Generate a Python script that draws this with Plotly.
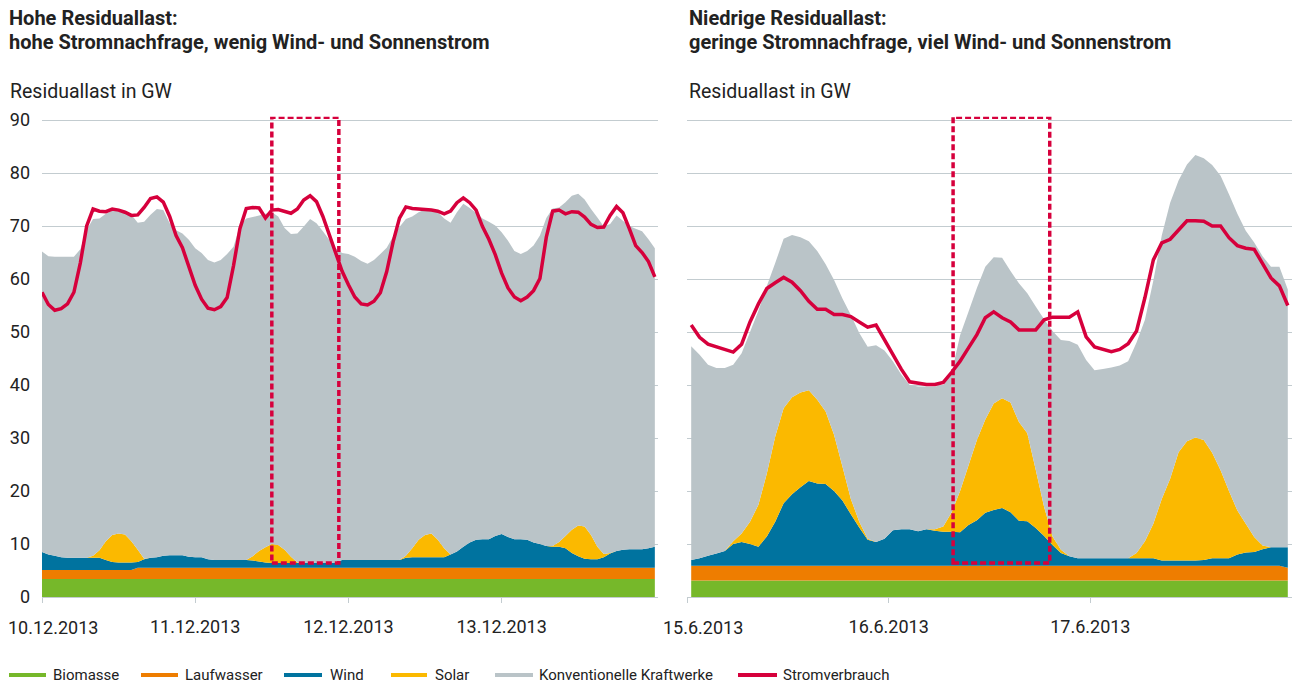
import pandas as pd
import plotly.graph_objects as go

# ---------------- data ----------------
left_time = pd.date_range("2013-12-10 00:00", periods=97, freq="h")
right_time = pd.date_range("2013-06-15 00:30", periods=72, freq="h")

left_bio = [3.4] * 97
left_lauf = [1.7] * 15 + [2.1] * 82
left_wind = [
    3.4, 2.9, 2.7, 2.4, 2.3, 2.3, 2.3, 2.3, 2.3, 2.3,
    1.9, 1.5, 1.4, 1.4, 1.4, 1.1, 1.6, 1.9, 2.0, 2.3,
    2.4, 2.4, 2.4, 2.1, 2.0, 2.0, 1.6, 1.5, 1.5, 1.5,
    1.5, 1.5, 1.5, 1.4, 1.2, 1.0, 0.9, 0.9, 0.9, 0.9,
    0.9, 0.9, 0.9, 0.9, 0.9, 0.9, 1.0, 1.5, 1.5, 1.5,
    1.5, 1.5, 1.5, 1.5, 1.5, 1.5, 1.5, 1.9, 2.0, 2.0,
    2.0, 2.0, 2.0, 2.0, 2.5, 3.1, 4.0, 4.8, 5.3, 5.4,
    5.4, 6.0, 6.4, 5.8, 5.4, 5.4, 5.3, 4.8, 4.5, 4.1,
    4.0, 4.0, 3.7, 2.8, 2.2, 1.7, 1.6, 1.6, 2.0, 2.7,
    3.2, 3.4, 3.5, 3.5, 3.5, 3.7, 4.0,
]
left_solar = [
    0, 0, 0, 0, 0, 0, 0, 0, 0.4, 1.4,
    3.5, 5.1, 5.5, 5.3, 4.0, 2.3, 0.1, 0, 0, 0,
    0, 0, 0, 0, 0, 0, 0, 0, 0, 0,
    0, 0, 0, 0.8, 2.0, 2.9, 3.6, 3.4, 2.5, 1.2,
    0.1, 0, 0, 0, 0, 0, 0, 0, 0, 0,
    0, 0, 0, 0, 0, 0, 0, 0.4, 1.7, 3.3,
    4.2, 4.5, 3.3, 1.7, 0, 0, 0, 0, 0, 0,
    0, 0, 0, 0, 0, 0, 0, 0, 0, 0,
    0.1, 0.9, 2.3, 4.4, 5.8, 6.1, 4.6, 2.4, 0.6, 0.1,
    0, 0, 0, 0, 0, 0, 0,
]
left_konv = [
    56.7, 56.3, 56.4, 56.7, 56.8, 56.8, 58.2, 61.9, 63.5, 62.6,
    61.8, 61.2, 60.8, 60.8, 61.6, 61.7, 63.6, 64.7, 65.7, 65.2,
    62.6, 61.3, 60.7, 59.8, 58.3, 57.4, 56.5, 56.1, 56.6, 57.7,
    59.1, 63.1, 64.4, 64.0, 63.3, 62.9, 62.6, 62.0, 60.7, 60.9,
    62.1, 63.5, 64.9, 64.1, 62.6, 61.0, 59.3, 57.9, 57.7, 57.2,
    56.4, 55.9, 56.6, 57.7, 58.9, 61.0, 62.8, 63.5, 62.6, 61.8,
    61.4, 61.0, 61.8, 62.2, 62.6, 64.0, 64.7, 63.1, 61.7, 60.5,
    59.9, 58.6, 56.9, 55.9, 54.4, 53.8, 54.5, 56.0, 58.2, 61.9,
    63.7, 63.1, 63.0, 63.0, 62.6, 61.7, 61.5, 62.1, 61.8, 62.1,
    63.3, 62.1, 61.0, 60.5, 60.0, 58.3, 56.3,
]
left_load = [
    57.5, 55.2, 54.1, 54.4, 55.3, 57.5, 63.0, 70.0, 73.2, 72.8,
    72.7, 73.2, 73.0, 72.6, 72.0, 72.1, 73.5, 75.2, 75.5, 74.5,
    71.8, 68.2, 65.9, 62.4, 58.8, 56.2, 54.5, 54.2, 54.8, 56.5,
    62.5, 69.5, 73.3, 73.5, 73.4, 71.5, 73.0, 73.1, 72.7, 72.4,
    73.2, 74.9, 75.7, 74.6, 71.8, 68.3, 65.0, 61.5, 58.9, 56.6,
    55.3, 55.1, 55.8, 57.4, 61.4, 67.0, 71.5, 73.6, 73.3, 73.2,
    73.2, 73.0, 72.8, 72.3, 72.8, 74.4, 75.3, 74.4, 73.0, 69.9,
    67.5, 64.6, 61.1, 58.3, 56.6, 55.9, 56.6, 57.8, 60.1, 67.9,
    72.8, 73.0, 72.3, 72.7, 72.6, 71.7, 70.3, 69.7, 69.8, 72.0,
    73.7, 72.5, 69.5, 66.3, 65.0, 63.3, 60.4,
]

right_bio = [3.1] * 72
right_lauf = [2.8] * 71 + [2.4]
right_wind = [
    1.1, 1.4, 1.9, 2.3, 2.8, 4.1, 4.5, 4.1, 3.6, 5.5,
    8.3, 11.8, 13.5, 14.8, 16.0, 15.5, 15.4, 14.1, 12.3, 9.7,
    7.2, 4.9, 4.5, 5.1, 6.7, 6.9, 6.9, 6.5, 6.9, 6.6,
    6.4, 6.4, 6.3, 7.7, 8.6, 10.0, 10.5, 10.9, 10.1, 8.5,
    8.4, 7.1, 5.6, 3.9, 2.4, 1.8, 1.4, 1.4, 1.4, 1.4,
    1.4, 1.4, 1.4, 1.4, 1.4, 1.4, 1.0, 1.0, 1.0, 1.0,
    1.0, 1.1, 1.4, 1.4, 1.4, 2.1, 2.5, 2.6, 3.1, 3.5,
    3.5, 3.9,
]
right_solar = [
    0, 0, 0, 0, 0, 0.5, 1.6, 4.2, 7.9, 11.9,
    16.1, 17.9, 18.3, 17.9, 17.1, 15.8, 13.7, 10.6, 6.4, 2.9,
    1.1, 0.2, 0, 0, 0, 0, 0, 0, 0, 0.3,
    1.0, 3.7, 7.8, 11.2, 15.1, 17.6, 20.1, 20.7, 20.7, 18.6,
    16.6, 11.0, 5.5, 1.6, 0.6, 0, 0, 0, 0, 0,
    0, 0, 0, 1.0, 3.2, 6.5, 11.6, 15.4, 20.4, 22.5,
    23.2, 22.6, 19.9, 16.6, 12.7, 8.3, 5.4, 2.8, 0.7, 0,
    0, 0,
]
right_konv = [
    40.3, 38.4, 36.0, 35.0, 34.5, 33.3, 34.0, 35.8, 36.6, 35.4,
    32.7, 32.0, 30.6, 29.3, 28.1, 28.1, 27.8, 29.2, 31.7, 34.7,
    35.6, 36.2, 37.1, 35.5, 31.9, 29.2, 27.2, 27.3, 26.9, 26.9,
    26.7, 26.3, 29.4, 29.0, 28.7, 28.8, 27.6, 26.5, 24.8, 26.2,
    26.4, 30.8, 35.4, 38.8, 39.6, 40.6, 40.3, 37.4, 35.5, 35.7,
    36.0, 36.4, 37.2, 39.7, 41.8, 45.9, 49.7, 52.1, 51.3, 52.2,
    53.3, 53.2, 54.3, 55.6, 56.0, 56.0, 55.3, 55.6, 54.6, 52.9,
    52.9, 48.6,
]
right_load = [
    51.3, 49.0, 47.7, 47.2, 46.7, 46.2, 47.7, 51.9, 55.3, 58.2,
    59.3, 60.3, 59.4, 57.8, 55.8, 54.3, 54.3, 53.3, 53.3, 52.9,
    51.9, 50.9, 51.3, 48.5, 45.7, 43.0, 40.6, 40.3, 40.1, 40.1,
    40.5, 42.4, 44.5, 47.0, 49.5, 52.7, 53.8, 52.7, 51.9, 50.4,
    50.4, 50.4, 52.3, 52.8, 52.8, 52.8, 53.8, 49.1, 47.2, 46.7,
    46.3, 46.7, 47.8, 50.2, 56.5, 63.6, 66.8, 67.5, 69.3, 71.0,
    71.0, 70.9, 70.0, 70.0, 67.8, 66.3, 65.8, 65.6, 62.9, 60.2,
    58.7, 55.0,
]

series_names = ["Biomasse", "Laufwasser", "Wind", "Solar", "Konventionelle Kraftwerke"]
load_name = "Stromverbrauch"

left_ticks = ["2013-12-10", "2013-12-11", "2013-12-12", "2013-12-13"]
left_ticktext = ["", "11.12.2013", "12.12.2013", "13.12.2013"]
right_ticks = ["2013-06-15", "2013-06-16", "2013-06-17"]
right_ticktext = ["", "16.6.2013", "17.6.2013"]

left_box = ["2013-12-11 12:00", "2013-12-11 22:30"]
right_box = ["2013-06-16 07:40", "2013-06-16 19:10"]
box_y = [6.4, 90.5]

# ---------------- style ----------------
COLORS = ["#76b82a", "#ee7d00", "#00739f", "#fbb900", "#bac4c8"]
RED = "#d6003c"
FONT = "Roboto"
TXT = "#222222"
GRID = "#c3ccd0"
AXIS = "#c3ccd0"

# legend layout (pixel positions: symbol start, symbol end, text start)
LEGEND_POS = [(9, 46, 52), (141, 178, 184), (284, 322, 329),
              (391, 427, 434), (495, 533, 538), (738, 777, 782)]
LEGEND_Y = 675

fig = go.Figure()

def add_panel(times, comps, load, xa, ya):
    for name, vals, col in zip(series_names, comps, COLORS):
        fig.add_trace(go.Scatter(
            x=times, y=vals, name=name, mode="none", stackgroup="s" + xa,
            fillcolor=col, showlegend=False, xaxis=xa, yaxis=ya,
            hoverinfo="skip"))
    fig.add_trace(go.Scatter(
        x=times, y=load, name=load_name, mode="lines",
        line=dict(color=RED, width=3.5), showlegend=False,
        xaxis=xa, yaxis=ya))

add_panel(left_time, [left_bio, left_lauf, left_wind, left_solar, left_konv],
          left_load, "x", "y")
add_panel(right_time, [right_bio, right_lauf, right_wind, right_solar, right_konv],
          right_load, "x2", "y2")

W, H = 1295, 685
def px_x(p): return p / W
def px_y(p): return 1 - p / H

ydom = [px_y(597), px_y(597 - 90.6 * 5.3)]

yaxis_common = dict(range=[0, 90.6], domain=ydom, showgrid=True, gridcolor=GRID,
                    gridwidth=1.3, zeroline=False, tickvals=list(range(0, 91, 10)),
                    tickfont=dict(family=FONT, size=18, color=TXT), fixedrange=True,
                    automargin=False)
xaxis_common = dict(showgrid=False, zeroline=False, showline=True, linecolor=AXIS,
                    linewidth=1.3, ticks="outside", ticklen=5, tickcolor=AXIS,
                    tickwidth=1.3, tickfont=dict(family=FONT, size=18, color=TXT),
                    ticklabelstandoff=8, automargin=False, fixedrange=True)

fig.update_layout(
    width=W, height=H,
    margin=dict(l=0, r=0, t=0, b=0, autoexpand=False),
    paper_bgcolor="white", plot_bgcolor="white",
    xaxis=dict(xaxis_common, domain=[px_x(42), px_x(657.5)],
               range=["2013-12-10 00:00", "2013-12-14 00:25"],
               tickvals=left_ticks, ticktext=left_ticktext, anchor="y"),
    yaxis=dict(yaxis_common, anchor="x", ticklabelstandoff=11),
    xaxis2=dict(xaxis_common, domain=[px_x(687), px_x(1292)],
                range=["2013-06-15 00:00", "2013-06-18 00:00"],
                tickvals=right_ticks, ticktext=right_ticktext, anchor="y2"),
    yaxis2=dict(yaxis_common, anchor="x2", showticklabels=False),
    showlegend=False,
)

def ann(text, x, y, size, bold=False, xanchor="left", yanchor="middle"):
    fig.add_annotation(text=("<b>%s</b>" % text) if bold else text,
                       x=px_x(x), y=px_y(y), xref="paper", yref="paper",
                       xanchor=xanchor, yanchor=yanchor, showarrow=False,
                       font=dict(family=FONT, size=size, color=TXT), align="left")

ann("Hohe Residuallast:", 7, 18, 20, bold=True)
ann("hohe Stromnachfrage, wenig Wind- und Sonnenstrom", 7, 42, 20, bold=True)
ann("Niedrige Residuallast:", 687, 18, 20, bold=True)
ann("geringe Stromnachfrage, viel Wind- und Sonnenstrom", 687, 42, 20, bold=True)
ann("Residuallast in GW", 8, 91, 19.5)
ann("Residuallast in GW", 687, 91, 19.5)
ann("10.12.2013", 6, 627, 18)
ann("15.6.2013", 661, 627, 18)

# legend (drawn manually to match spacing)
for name, col, (s0, s1, tx) in zip(series_names + [load_name], COLORS + [RED], LEGEND_POS):
    fig.add_shape(type="line", xref="paper", yref="paper",
                  x0=px_x(s0), x1=px_x(s1), y0=px_y(LEGEND_Y), y1=px_y(LEGEND_Y),
                  line=dict(color=col, width=4))
    fig.add_annotation(text=name, x=px_x(tx - 1), y=px_y(LEGEND_Y), xref="paper",
                       yref="paper", xanchor="left", yanchor="middle", showarrow=False,
                       font=dict(family=FONT, size=15, color=TXT))

# highlight boxes
for xa, ya, bx in [("x", "y", left_box), ("x2", "y2", right_box)]:
    fig.add_shape(type="rect", xref=xa, yref=ya, x0=bx[0], x1=bx[1],
                  y0=box_y[0], y1=box_y[1], layer="above",
                  line=dict(color=RED, width=3.5, dash="6px,3px"))

fig.write_html(
    "out.html",
    config={"displayModeBar": False},
    post_script="document.body.style.margin='0px';document.body.style.overflow='hidden';",
)
